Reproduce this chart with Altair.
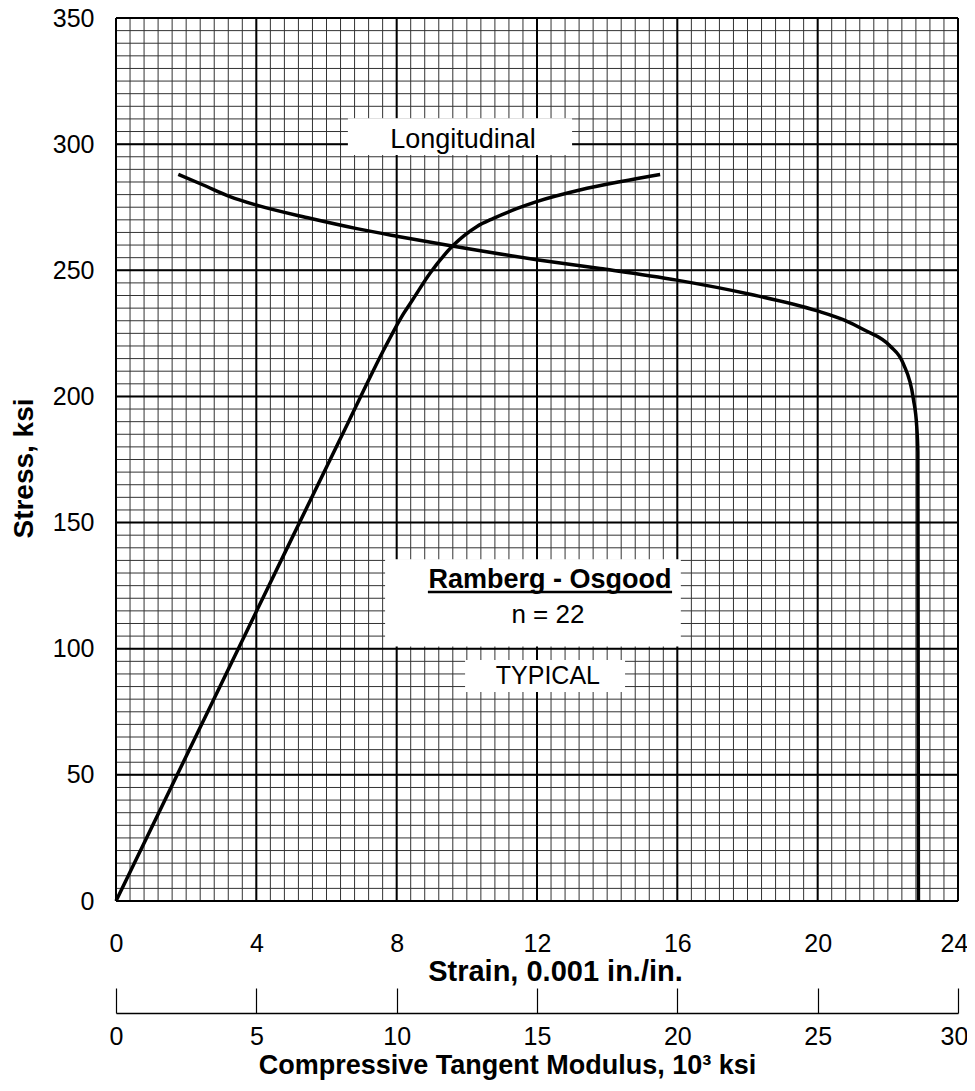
import altair as alt
import pandas as pd

# ---- data ----
# Stress-strain curve (strain in 0.001 in./in., stress in ksi)
ss_strain = [0.0, 4.18, 6.65, 7.6, 7.98, 8.2, 8.46, 8.95, 9.62, 10.28, 10.76, 11.4, 11.99, 13.22, 14.4, 15.51]
ss_stress = [0.0, 119.9, 190.6, 217.6, 227.6, 232.9, 238.4, 248.8, 260.0, 267.3, 270.6, 274.3, 277.2, 281.8, 285.2, 288.0]

# Tangent modulus curve (modulus in 10^3 ksi, stress in ksi)
tm_mod = [2.22, 3.11, 4.06, 5.01, 6.91, 8.58, 10.0, 12.03, 14.99, 17.25, 19.98, 22.59, 24.96, 25.91,
          26.63, 27.58, 28.05, 28.41, 28.53, 28.57, 28.59]
tm_stress = [288.0, 283.8, 279.2, 275.8, 270.6, 266.5, 263.5, 259.5, 254.2, 250.7, 246.1, 240.5, 234.0, 230.4,
             226.5, 220.0, 213.0, 199.0, 188.0, 178.0, 0.0]

strain_ticks = [0, 4, 8, 12, 16, 20, 24]
stress_ticks = [0, 50, 100, 150, 200, 250, 300, 350]
modulus_ticks = [0, 5, 10, 15, 20, 25, 30]

# grid lines
minor_x = [round(i * 0.4, 1) for i in range(61)]
minor_y = [i * 5 for i in range(71)]

# annotation boxes (strain / stress coordinates)
box_x = [6.61, 7.67, 9.95]
box_x2 = [13.0, 16.1, 14.51]
box_y = [295.7, 100.9, 82.8]
box_y2 = [310.3, 135.5, 95.5]

label_text = ["Longitudinal", "n = 22", "TYPICAL"]
label_x = [9.89, 12.31, 12.31]
label_y = [301.6, 113.4, 89.2]
label_size = [27, 26, 25]

title_text = ["Ramberg - Osgood"]
title_x = [12.37]
title_y = [127.2]
underline_x = [8.89]
underline_x2 = [15.85]
underline_y = [122.5]

FONT = "Liberation Sans"
W, H = 842, 883
TITLE_SIZE = 29

sx = alt.Scale(domain=[0, 24], nice=False, zero=False)
sy = alt.Scale(domain=[0, 350], nice=False, zero=False)
sm = alt.Scale(domain=[0, 30], nice=False, zero=False)

yaxis = alt.Axis(
    values=stress_ticks, ticks=False, domain=False, grid=False, labelFlush=False,
    labelFont=FONT, labelFontSize=25, labelColor="black", labelPadding=22,
    title="Stress, ksi", titleFont=FONT, titleFontSize=28, titleFontWeight="bold",
    titleColor="black", titlePadding=14, titleY=450)

ss_df = pd.DataFrame({"i": range(len(ss_strain)), "strain": ss_strain, "stress": ss_stress})
tm_df = pd.DataFrame({"i": range(len(tm_mod)), "mod": tm_mod, "stress": tm_stress})

vminor = alt.Chart(pd.DataFrame({"x": minor_x})).mark_rule(color="#333333", strokeWidth=1).encode(
    x=alt.X("x:Q", scale=sx, axis=None))
hminor = alt.Chart(pd.DataFrame({"y": minor_y})).mark_rule(color="#333333", strokeWidth=1).encode(
    y=alt.Y("y:Q", scale=sy, axis=yaxis))
vmajor = alt.Chart(pd.DataFrame({"x": strain_ticks})).mark_rule(color="black", strokeWidth=2).encode(
    x=alt.X("x:Q", scale=sx, axis=alt.Axis(
        values=strain_ticks, ticks=False, domain=False, grid=False, labelFlush=False,
        labelFont=FONT, labelFontSize=25, labelColor="black", labelPadding=30,
        labelOffset={"condition": {"test": "datum.value == 24", "value": -4}, "value": 0},
        title="Strain, 0.001 in./in.", titleFont=FONT, titleFontSize=TITLE_SIZE, titleFontWeight="bold",
        titleColor="black", titlePadding=1, titleX=439)))
hmajor = alt.Chart(pd.DataFrame({"y": stress_ticks})).mark_rule(color="black", strokeWidth=2).encode(
    y=alt.Y("y:Q", scale=sy, axis=yaxis))

boxes = alt.Chart(pd.DataFrame({"x": box_x, "x2": box_x2, "y": box_y, "y2": box_y2})).mark_rect(
    color="white").encode(
    x=alt.X("x:Q", scale=sx, axis=None), x2="x2:Q",
    y=alt.Y("y:Q", scale=sy, axis=yaxis), y2="y2:Q")

labels = alt.Chart(pd.DataFrame({"t": label_text, "x": label_x, "y": label_y, "s": label_size})).mark_text(
    font=FONT, color="black", align="center", baseline="middle").encode(
    x=alt.X("x:Q", scale=sx, axis=None), y=alt.Y("y:Q", scale=sy, axis=yaxis), text="t:N",
    size=alt.Size("s:Q", scale=None, legend=None))

title_lbl = alt.Chart(pd.DataFrame({"t": title_text, "x": title_x, "y": title_y})).mark_text(
    font=FONT, fontSize=27, fontWeight="bold", color="black", align="center", baseline="middle").encode(
    x=alt.X("x:Q", scale=sx, axis=None), y=alt.Y("y:Q", scale=sy, axis=yaxis), text="t:N")

underline = alt.Chart(pd.DataFrame({"x": underline_x, "x2": underline_x2, "y": underline_y})).mark_rule(
    color="black", strokeWidth=2.5).encode(
    x=alt.X("x:Q", scale=sx, axis=None), x2="x2:Q", y=alt.Y("y:Q", scale=sy, axis=yaxis))

curve1 = alt.Chart(ss_df).mark_line(color="black", strokeWidth=3.5, interpolate="monotone").encode(
    x=alt.X("strain:Q", scale=sx, axis=None), y=alt.Y("stress:Q", scale=sy, axis=yaxis), order="i:Q")

curve2 = alt.Chart(tm_df).mark_line(color="black", strokeWidth=3.5, interpolate="monotone").encode(
    x=alt.X("mod:Q", scale=sm, axis=alt.Axis(
        orient="bottom", offset=112, values=modulus_ticks, ticks=False, domain=False, grid=False,
        labelFlush=False, labelFont=FONT, labelFontSize=25, labelColor="black", labelPadding=11,
        labelOffset={"condition": {"test": "datum.value == 30", "value": -4}, "value": 0},
        title="Compressive Tangent Modulus, 10³ ksi", titleFont=FONT, titleFontSize=27,
        titleFontWeight="bold", titleColor="black", titlePadding=3, titleX=391)),
    y=alt.Y("stress:Q", scale=sy, axis=yaxis), order="i:Q")

mod_ticks = alt.Chart(pd.DataFrame({"m": modulus_ticks})).mark_point(opacity=0).encode(
    x=alt.X("m:Q", scale=sm, axis=alt.Axis(
        orient="top", offset=-(H + 112), values=modulus_ticks, labels=False, ticks=True, tickSize=25,
        tickColor="black", tickWidth=1.2, domain=True, domainColor="black", domainWidth=1.5,
        grid=False, title=None)),
    y=alt.value(0))

chart = alt.layer(
    vminor, hminor, vmajor, hmajor, boxes, labels, title_lbl, underline, curve1, curve2, mod_ticks
).resolve_scale(x="independent").properties(
    width=W, height=H,
    autosize=alt.AutoSizeParams(type="none"),
    padding={"left": 108, "top": 10, "right": 9, "bottom": 182},
).configure_view(stroke=None).configure(background="white")

chart.save("out.html", embed_options={"renderer": "svg", "actions": False})
